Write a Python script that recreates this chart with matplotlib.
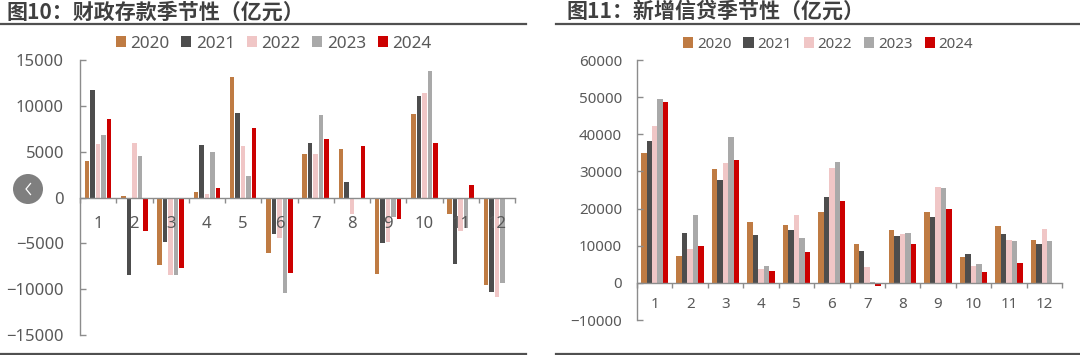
#!/usr/bin/env python3
# -*- coding: utf-8 -*-

import matplotlib
matplotlib.use("Agg")
import matplotlib.pyplot as plt
import numpy as np
from matplotlib.lines import Line2D
from matplotlib.patches import Circle, Patch

plt.rcParams["font.family"] = ["Noto Sans", "Noto Sans CJK SC", "DejaVu Sans"]

W, H = 1080, 355
TEXT = "#595959"
AXIS = "#8C8C8C"

years = ["2020", "2021", "2022", "2023", "2024"]
colors = ["#BF7B43", "#4D4D4D", "#F0C6C6", "#A9A9A9", "#CC0000"]
months = ["1", "2", "3", "4", "5", "6", "7", "8", "9", "10", "11", "12"]

deposit_2020 = [4000, 200, -7400, 550, 13100, -6100, 4800, 5300, -8300, 9100, -1800, -9500]
deposit_2021 = [11700, -8400, -4800, 5700, 9200, -4000, 5900, 1700, -5000, 11100, -7200, -10300]
deposit_2022 = [5800, 6000, -8400, 400, 5600, -4400, 4800, -1800, -4900, 11400, -3600, -10800]
deposit_2023 = [6800, 4500, -8400, 5000, 2300, -10400, 9000, -100, -2100, 13800, -3300, -9300]
deposit_2024 = [8600, -3700, -7700, 1000, 7600, -8200, 6400, 5600, -2300, 5900, 1400, 0]

loan_2020 = [35000, 7100, 30600, 16300, 15700, 19000, 10400, 14200, 19200, 6900, 15400, 11600]
loan_2021 = [38300, 13400, 27600, 13000, 14300, 23200, 8700, 12700, 17800, 7900, 13100, 10400]
loan_2022 = [42200, 9100, 32400, 3600, 18400, 30800, 4200, 13200, 25800, 4500, 11500, 14500]
loan_2023 = [49500, 18300, 39400, 4500, 12100, 32600, 200, 13300, 25500, 5100, 11300, 11300]
loan_2024 = [48700, 9800, 33000, 3200, 8300, 22000, -900, 10400, 19800, 2900, 5400, 0]


def make_axes(fig, left, top, right, bottom):
    return fig.add_axes([left / W, 1 - bottom / H, (right - left) / W, (bottom - top) / H])


def draw_panel(ax, series, pitch, width, yticks, size, xpad, ypad):
    x = np.arange(len(months)) + 0.5
    for i, values in enumerate(series):
        ax.bar(x + (i - 2) * pitch, values, width, color=colors[i], linewidth=0)
    ax.set_xlim(0, 12)
    ax.set_ylim(yticks[0], yticks[-1])
    ax.set_yticks(yticks)
    ax.set_xticks(x)
    ax.set_xticklabels(months)
    ax.set_xticks(np.arange(13), minor=True)
    ax.tick_params(axis="x", which="major", length=0, pad=xpad, labelsize=size, labelcolor=TEXT)
    ax.tick_params(axis="x", which="minor", length=3.8, width=1, color=AXIS, direction="out")
    ax.tick_params(axis="y", length=4.2, width=1, color=AXIS, direction="in", pad=ypad,
                   labelsize=size, labelcolor=TEXT)
    for side in ["top", "right"]:
        ax.spines[side].set_visible(False)
    ax.spines["bottom"].set_position(("data", 0))
    ax.spines["bottom"].set_color(AXIS)
    ax.spines["left"].set_color(AXIS)
    ax.spines["bottom"].set_linewidth(1)
    ax.spines["left"].set_linewidth(1)


def add_legend(fig, cx, cy, size, box, textpad, gap):
    handles = [Patch(facecolor=c, linewidth=0) for c in colors]
    fig.legend(handles, years, ncol=5, loc="center", bbox_to_anchor=(cx / W, 1 - cy / H),
               frameon=False, fontsize=size, labelcolor=TEXT, handlelength=box, handleheight=box,
               handletextpad=textpad, columnspacing=gap, borderpad=0, borderaxespad=0)


def add_rule(fig, x0, x1, y, lw):
    fig.add_artist(Line2D([x0 / W, x1 / W], [1 - y / H, 1 - y / H], color="#505050", linewidth=lw))


def main():
    fig = plt.figure(figsize=(W / 100, H / 100), dpi=100)

    ax1 = make_axes(fig, 80, 60, 515, 335)
    draw_panel(ax1, [deposit_2020, deposit_2021, deposit_2022, deposit_2023, deposit_2024],
               0.152, 0.127, [-15000, -10000, -5000, 0, 5000, 10000, 15000], 12, 13, 11.5)
    ax2 = make_axes(fig, 637, 60, 1062, 320)
    draw_panel(ax2, [loan_2020, loan_2021, loan_2022, loan_2023, loan_2024],
               0.154, 0.154, [-10000, 0, 10000, 20000, 30000, 40000, 50000, 60000], 10.9, 10.5, 10.8)

    add_legend(fig, 273.5, 43.5, 12.3, 0.6, 0.25, 0.69)
    add_legend(fig, 828, 44.5, 10.9, 0.68, 0.24, 0.79)

    fig.text(7 / W, 1 - 12.5 / H, "图10：财政存款季节性（亿元）", family=["Noto Sans CJK SC", "DejaVu Sans"],
             fontsize=15.1, fontweight="bold", color="#404040", va="center")
    fig.text(567 / W, 1 - 11.5 / H, "图11：新增信贷季节性（亿元）", family=["Noto Sans CJK SC", "DejaVu Sans"],
             fontsize=15.1, fontweight="bold", color="#404040", va="center")

    add_rule(fig, 0, 526, 24, 1.6)
    add_rule(fig, 556, 1080, 24, 1.6)
    add_rule(fig, 0, 526, 354, 1.6)
    add_rule(fig, 556, 1080, 354, 1.6)

    # the round back button lying over the left chart
    px = fig.add_axes([0, 0, 1, 1], facecolor="none")
    px.set_xlim(0, W)
    px.set_ylim(H, 0)
    px.axis("off")
    px.add_patch(Circle((28, 189), 15, facecolor="#7F7F7F", edgecolor="none"))
    px.plot([30.5, 26, 30.5], [183.5, 189, 194.5], color="white", linewidth=0.9)

    fig.savefig("out.png", dpi=100)
    plt.close(fig)


if __name__ == "__main__":
    main()
